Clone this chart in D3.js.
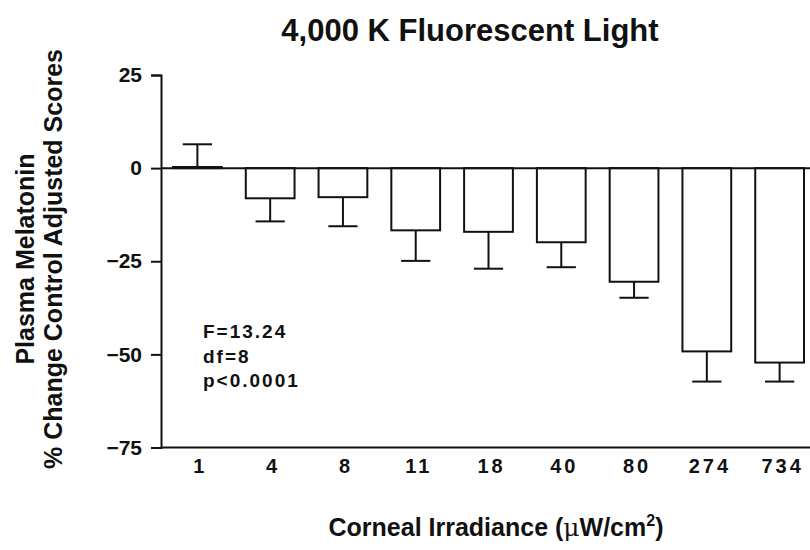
<!DOCTYPE html>
<html>
<head>
<meta charset="utf-8">
<script src="https://cdn.jsdelivr.net/npm/d3@7"></script>
<style>
  body { margin: 0; background: #fff; }
  text { font-family: "Liberation Sans", Arial, sans-serif; font-weight: bold; fill: #111; }
</style>
</head>
<body>
<div id="app"></div>
<script>
// irradiance levels (x categories) and % change of melatonin
var irradiance = ['1', '4', '8', '11', '18', '40', '80', '274', '734']
var meanChange = [0.3, -8.1, -7.8, -16.7, -17.1, -19.9, -30.5, -49.2, -52.2]
var errorSize = [6.1, 6.2, 7.8, 8.2, 9.9, 6.7, 4.3, 8.1, 5.1]
var yTicks = [25, 0, -25, -50, -75]
var statLines = ['F=13.24', 'df=8', 'p<0.0001']

var data = irradiance.map(function (d, i) {
  return { level: d, value: meanChange[i], err: errorSize[i] }
})

var width = 810, height = 550
var margin = { top: 75, left: 161, bottom: 102.5 }

var svg = d3.select('#app')
  .append('svg')
  .attr('width', width)
  .attr('height', height)

var x = d3.scaleBand()
  .domain(irradiance)
  .range([margin.left, 816])
  .paddingInner(0.33)
  .paddingOuter(0.165)

var y = d3.scaleLinear()
  .domain([-75, 25])
  .range([height - margin.bottom, margin.top])

var ink = '#111'

// bars
svg.selectAll('.bar')
  .data(data)
  .enter()
  .append('rect')
  .attr('class', 'bar')
  .attr('x', function (d) { return x(d.level) })
  .attr('width', x.bandwidth())
  .attr('y', function (d) { return y(Math.max(0, d.value)) })
  .attr('height', function (d) { return Math.abs(y(d.value) - y(0)) })
  .attr('fill', '#fff')
  .attr('stroke', ink)
  .attr('stroke-width', 2)

// error bars (one sided, away from zero)
var capW = x.bandwidth() * 0.6
var err = svg.selectAll('.err')
  .data(data)
  .enter()
  .append('g')
  .attr('class', 'err')
  .attr('stroke', ink)
  .attr('stroke-width', 2)

function tip(d) { return d.value >= 0 ? d.value + d.err : d.value - d.err }

err.append('line')
  .attr('x1', function (d) { return x(d.level) + x.bandwidth() / 2 })
  .attr('x2', function (d) { return x(d.level) + x.bandwidth() / 2 })
  .attr('y1', function (d) { return y(d.value) })
  .attr('y2', function (d) { return y(tip(d)) })

err.append('line')
  .attr('x1', function (d) { return x(d.level) + x.bandwidth() / 2 - capW / 2 })
  .attr('x2', function (d) { return x(d.level) + x.bandwidth() / 2 + capW / 2 })
  .attr('y1', function (d) { return y(tip(d)) })
  .attr('y2', function (d) { return y(tip(d)) })

// zero line across the plot
svg.append('line')
  .attr('x1', margin.left)
  .attr('x2', width)
  .attr('y1', y(0))
  .attr('y2', y(0))
  .attr('stroke', ink)
  .attr('stroke-width', 2)

// y axis
var yAxis = svg.append('g')
  .attr('transform', 'translate(' + margin.left + ',0)')
  .call(d3.axisLeft(y).tickValues(yTicks).tickSize(10).tickPadding(9))
yAxis.select('.domain').attr('stroke', ink).attr('stroke-width', 2)
yAxis.selectAll('.tick line').attr('stroke', ink).attr('stroke-width', 2)
yAxis.selectAll('.tick text')
  .style('font-family', '"Liberation Sans", Arial, sans-serif')
  .style('font-weight', 'bold')
  .style('font-size', '21px')
  .attr('fill', ink)

// bottom line at -75
svg.append('line')
  .attr('x1', margin.left)
  .attr('x2', width)
  .attr('y1', y(-75))
  .attr('y2', y(-75))
  .attr('stroke', ink)
  .attr('stroke-width', 2)

// x tick labels
svg.selectAll('.xlab')
  .data(irradiance)
  .enter()
  .append('text')
  .attr('class', 'xlab')
  .attr('x', function (d) { return x(d) + x.bandwidth() / 2 + 3 })
  .attr('y', y(-75) + 25)
  .attr('text-anchor', 'middle')
  .style('font-size', '20px')
  .style('letter-spacing', '3px')
  .text(function (d) { return d })

// stats text
svg.append('g')
  .selectAll('text')
  .data(statLines)
  .enter()
  .append('text')
  .attr('x', 203)
  .attr('y', function (d, i) { return 338 + i * 24.5 })
  .style('font-size', '19px')
  .style('letter-spacing', '2px')
  .text(function (d) { return d })

// title
svg.append('text')
  .attr('x', 470)
  .attr('y', 41)
  .attr('text-anchor', 'middle')
  .style('font-size', '31px')
  .text('4,000 K Fluorescent Light')

// x axis title
var xt = svg.append('text')
  .attr('x', 496)
  .attr('y', 536)
  .attr('text-anchor', 'middle')
  .style('font-size', '25px')
xt.append('tspan').text('Corneal Irradiance (')
xt.append('tspan').style('font-family', '"DejaVu Serif", serif').style('font-weight', 'normal').text('\u03bc')
xt.append('tspan').text('W/cm')
xt.append('tspan').attr('dy', -10).style('font-size', '16px').text('2')
xt.append('tspan').attr('dy', 10).text(')')

// y axis title, two lines
var yt = svg.append('text')
  .attr('transform', 'translate(34,' + 259 + ') rotate(-90)')
  .attr('text-anchor', 'middle')
  .style('font-size', '25px')
yt.append('tspan').attr('x', 0).attr('dy', 0).text('Plasma Melatonin')
yt.append('tspan').attr('x', 0).attr('dy', 28).text('% Change Control Adjusted Scores')
</script>
</body>
</html>
